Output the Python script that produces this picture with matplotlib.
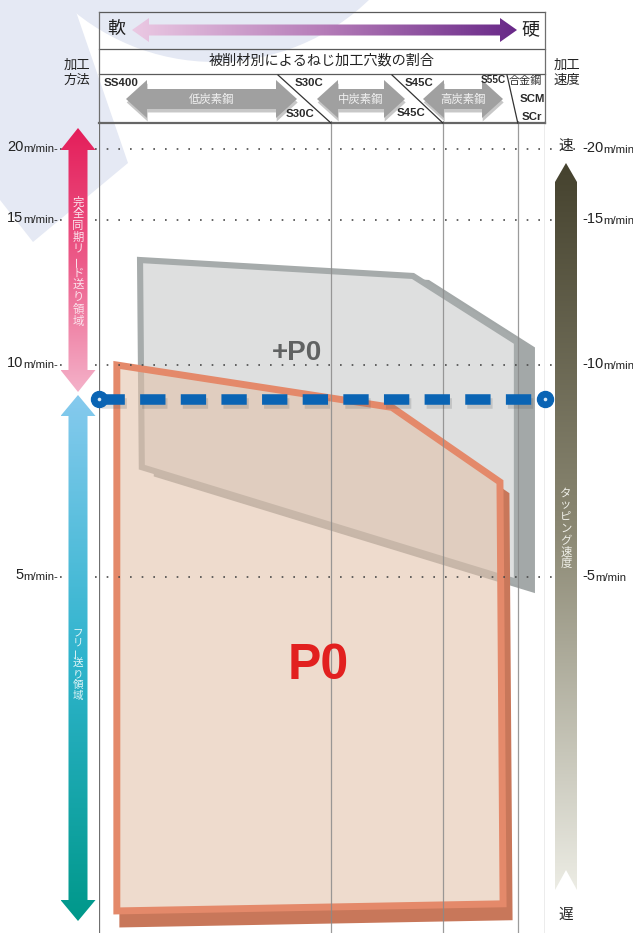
import numpy as np
import matplotlib
matplotlib.use("Agg")
import matplotlib.pyplot as plt
from matplotlib.patches import Polygon, Circle
from matplotlib.path import Path
from matplotlib.colors import LinearSegmentedColormap
import matplotlib.transforms as mtransforms
import matplotlib.patheffects as pe

# ---------------- data ----------------
SPEED_TICKS = [20, 15, 10, 5]                     # tapping speed (m/min)
SPEED_TICK_LABELS = ["20", "15", "10", "5"]
MATERIAL_BOUNDS = [0, 52.0, 77.1, 93.9, 100]      # share of threaded holes (%) per material group
P0_X = [4.0, 65.7, 89.9, 90.6, 4.0]               # P0 region, x in %
P0_Y = [10.0, 9.0, 7.24, 0.41, 0.31]              # P0 region, speed m/min
PLUS_P0_X = [9.2, 70.4, 93.7, 93.7, 9.6]          # +P0 region, x in %
PLUS_P0_Y = [13.62, 13.07, 10.79, 4.93, 7.59]     # +P0 region, speed m/min
SYNC_LIMIT_X = [0, 100]                           # boundary sync-lead / free feed
SYNC_LIMIT_Y = [9.2, 9.2]

# printed (non-linear) speed ruler: speed -> pixel row
RULER_SPEED = [0, 5, 10, 15, 20, 22]
RULER_ROW = [933, 577, 365, 220, 149, 121]

# ---------------- layout ----------------
W, H = 633, 933
CL, CR, CT = 99, 545, 121
JP = ["Noto Sans CJK JP", "DejaVu Sans"]
NARROW = ["Liberation Sans Narrow", "Liberation Sans", "DejaVu Sans"]

fig = plt.figure(figsize=(W / 100, H / 100), dpi=100)
fig.patch.set_facecolor("white")

bg = fig.add_axes([0, 0, 1, 1], zorder=0)
fg = fig.add_axes([0, 0, 1, 1], zorder=2)
for a in (bg, fg):
    a.set_xlim(0, W); a.set_ylim(H, 0); a.axis("off"); a.patch.set_visible(False)

ax = fig.add_axes([CL / W, 0, (CR - CL) / W, (H - CT) / H], zorder=1)
ax.patch.set_visible(False)
heights = H - np.array(RULER_ROW, dtype=float)
def fwd(v):
    return np.interp(v, RULER_SPEED, heights)
def inv(h):
    return np.interp(h, heights, RULER_SPEED)
ax.set_yscale("function", functions=(fwd, inv))
ax.set_xlim(0, 100); ax.set_ylim(0, 22)
ax.axis("off")

bx = mtransforms.blended_transform_factory(fg.transData, ax.transData)

# ---------------- background watermark ----------------
WM = "#E5E9F4"
bg.add_patch(Polygon([(0, 0), (72, 0), (128, 163), (33, 242), (0, 200)], closed=True,
                     facecolor=WM, edgecolor="none"))
bg.add_patch(Circle((215, -160), 222, facecolor=WM, edgecolor="none"))

# ---------------- helpers ----------------
def gradient_poly(axis, verts, colors, horizontal=False, z=3):
    poly = Polygon(verts, closed=True, facecolor="none", edgecolor="none")
    axis.add_patch(poly)
    xs = [v[0] for v in verts]; ys = [v[1] for v in verts]
    cmap = LinearSegmentedColormap.from_list("g", colors)
    arr = np.linspace(0, 1, 256)
    arr = arr.reshape(1, -1) if horizontal else arr.reshape(-1, 1)
    im = axis.imshow(arr, cmap=cmap, extent=(min(xs), max(xs), max(ys), min(ys)),
                     origin="upper", aspect="auto", zorder=z, interpolation="bilinear")
    im.set_clip_path(poly)

def vdouble(xc, yt, yb, hl, hh, sh):
    return [(xc, yt), (xc + hh, yt + hl), (xc + sh, yt + hl), (xc + sh, yb - hl),
            (xc + hh, yb - hl), (xc, yb), (xc - hh, yb - hl), (xc - sh, yb - hl),
            (xc - sh, yt + hl), (xc - hh, yt + hl)]

def hdouble(yc, xl, xr, hl, hh, sh):
    return [(xl, yc), (xl + hl, yc - hh), (xl + hl, yc - sh), (xr - hl, yc - sh),
            (xr - hl, yc - hh), (xr, yc), (xr - hl, yc + hh), (xr - hl, yc + sh),
            (xl + hl, yc + sh), (xl + hl, yc + hh)]

def vtext(axis, x, y0, step, s, **kw):
    for i, ch in enumerate(s):
        rot = 90 if ch == "ー" else 0
        axis.text(x, y0 + i * step, ch, ha="center", va="center", rotation=rot,
                  family=JP, **kw)

def pct2px(p):
    return CL + p * (CR - CL) / 100.0

# ---------------- chart content (data axes) ----------------
for b in MATERIAL_BOUNDS:
    edge = b in (MATERIAL_BOUNDS[0], MATERIAL_BOUNDS[-1])
    ax.axvline(b, color="#6f6f6f" if edge else "#8a8a8a", lw=0.9, zorder=6,
               alpha=1 if edge else 0.85)

def region(xs, ys, face, edge, shade, lw, off, alpha, z):
    verts = list(zip(xs, ys))
    shadow_tr = mtransforms.offset_copy(ax.transData, fig=fig, x=off[0], y=-off[1], units="dots")
    sh = Polygon(verts, closed=True, facecolor=shade, edgecolor=shade, lw=lw,
                 transform=shadow_tr, zorder=z, joinstyle="miter")
    ax.add_patch(sh)
    p = np.array(verts, float)
    area = 0.5 * np.sum(p[:, 0] * np.roll(p[:, 1], -1) - np.roll(p[:, 0], -1) * p[:, 1])
    rect = np.array([[-50, -5], [150, -5], [150, 40], [-50, 40]], float)
    rarea = 0.5 * np.sum(rect[:, 0] * np.roll(rect[:, 1], -1) - np.roll(rect[:, 0], -1) * rect[:, 1])
    if np.sign(area) == np.sign(rarea):
        p = p[::-1]
    comp = Path.make_compound_path(Path(np.vstack([rect, rect[:1]]), closed=True),
                                   Path(np.vstack([p, p[:1]]), closed=True))
    sh.set_clip_path(comp, ax.transData)
    ax.add_patch(Polygon(verts, closed=True, facecolor=face, edgecolor="none", alpha=alpha,
                         zorder=z + 0.1))
    ax.add_patch(Polygon(verts, closed=True, facecolor="none", edgecolor=edge, lw=lw,
                         zorder=z + 0.2, joinstyle="miter"))

region(PLUS_P0_X, PLUS_P0_Y, "#DEDFDF", "#A6ABAB", "#A3A8A8", 4.4, (15, 7), 1.0, 2)
region(P0_X, P0_Y, (226 / 255, 193 / 255, 169 / 255), "#E4896A", "#C8775A", 5.0, (6, 13), 0.58, 3)

# speed grid (dotted)
for v in SPEED_TICKS:
    ax.plot([60, 580], [v, v], transform=bx, ls=(0, (1, 6)), lw=1.2, color="#4a4a4a",
            clip_on=False, zorder=5)

# sync-lead limit (blue dashed)
ax.plot(SYNC_LIMIT_X, SYNC_LIMIT_Y, color="#0A64B4", lw=7.6, ls=(0, (2.4, 1.45)),
        solid_capstyle="butt", dash_capstyle="butt", zorder=8, clip_on=False,
        path_effects=[pe.SimpleLineShadow(offset=(1.5, -3), shadow_color="#555555", alpha=0.2),
                      pe.Normal()])
ax.plot(SYNC_LIMIT_X, SYNC_LIMIT_Y, ls="none", marker="o", ms=11.5, mfc="#0A64B4",
        mec="#0A64B4", zorder=9, clip_on=False)
ax.plot(SYNC_LIMIT_X, SYNC_LIMIT_Y, ls="none", marker="o", ms=2.6, mfc="#d8e8f6",
        mec="none", zorder=10, clip_on=False)

ax.text(44.4, 10.41, "+P0", ha="center", va="center", fontsize=20, fontweight="bold",
        color="#606262", family=NARROW, zorder=7)
ax.text(49.1, 3.75, "P0", ha="center", va="center", fontsize=36, fontweight="bold",
        color="#E2201F", family=NARROW, zorder=7)

# tick labels
base_off = mtransforms.ScaledTranslation(0, -3 / 100, fig.dpi_scale_trans)
for v, lab in zip(SPEED_TICKS, SPEED_TICK_LABELS):
    u = fg.text(58, v, "m/min-", transform=bx + base_off, ha="right", va="baseline",
                fontsize=8.2, family=NARROW, color="#222222")
    fg.annotate(lab, xy=(0, 0), xycoords=u, ha="right", va="bottom",
                fontsize=10.5, family=NARROW, color="#222222", annotation_clip=False)
    n = fg.text(582, v, "-" + lab, transform=bx + base_off, ha="left", va="baseline",
                fontsize=10.5, family=NARROW, color="#222222")
    fg.annotate("m/min", xy=(1, 0), xycoords=n, ha="left", va="bottom",
                fontsize=8.2, family=NARROW, color="#222222", annotation_clip=False)

# ---------------- header (pixel space) ----------------
LC = "#5a5a5a"
for y in (12, 49, 74):
    fg.plot([CL, CR], [y, y], color=LC, lw=0.9, zorder=4)
fg.plot([CL, CR], [123, 123], color="#666666", lw=1.6, zorder=4)
fg.plot([CL, CL], [12, 123], color="#6f6f6f", lw=0.9, zorder=4)
fg.plot([CR, CR], [12, 123], color="#6f6f6f", lw=0.9, zorder=4)

for top_x, b in ((278, MATERIAL_BOUNDS[1]), (392, MATERIAL_BOUNDS[2]), (507, MATERIAL_BOUNDS[3])):
    fg.plot([top_x, pct2px(b)], [75, 123], color="#333333", lw=0.9, zorder=4)

fg.text(116, 29, "軟", ha="center", va="center", fontsize=13, family=JP, color="#222222")
fg.text(530, 29, "硬", ha="center", va="center", fontsize=13, family=JP, color="#222222")
gradient_poly(fg, hdouble(30, 132, 517, 17, 12, 5.5), ["#EBC9E3", "#B57CB8", "#682888"],
              horizontal=True)

fg.text(322, 61, "被削材別によるねじ加工穴数の割合", ha="center", va="center", fontsize=10.2,
        family=JP, color="#222222")
fg.text(77, 72, "加工\n方法", ha="center", va="center", fontsize=9.6, family=JP,
        color="#222222", linespacing=1.1)
fg.text(567, 72, "加工\n速度", ha="center", va="center", fontsize=9.6, family=JP,
        color="#222222", linespacing=1.1)

gshadow = [pe.SimplePatchShadow(offset=(0.5, -2.5), shadow_rgbFace="#000000", alpha=0.22), pe.Normal()]
for (xl, xr), lab in (((126, 297), "低炭素鋼"), ((317, 405), "中炭素鋼"), ((423, 503), "高炭素鋼")):
    fg.add_patch(Polygon(hdouble(99, xl, xr, 21, 19, 10), closed=True, facecolor="#A0A0A0",
                         edgecolor="none", path_effects=gshadow, zorder=3))
    fg.text((xl + xr) / 2, 99, lab, ha="center", va="center", fontsize=8.2, family=JP,
            color="#F2F2F2", zorder=4)

mat_kw = dict(ha="center", va="center", fontsize=8.2, fontweight="bold", family=NARROW,
              color="#2a2a2a", zorder=5)
fg.text(121, 83, "SS400", **mat_kw)
fg.text(309, 83, "S30C", **mat_kw)
fg.text(300, 114, "S30C", **mat_kw)
fg.text(419, 83, "S45C", **mat_kw)
fg.text(411, 113, "S45C", **mat_kw)
fg.text(532, 99, "SCM", **mat_kw)
fg.text(532, 117, "SCr", **mat_kw)
fg.text(506, 80, "S55C", ha="right", va="center", fontsize=7.2, fontweight="bold",
        family=NARROW, color="#2a2a2a", zorder=5)
fg.text(525.5, 81, "合金鋼", ha="center", va="center", fontsize=8.0, family=JP,
        color="#2a2a2a", zorder=5)

# ---------------- side arrows ----------------
gradient_poly(fg, vdouble(78, 128, 392, 22, 17.5, 9.5), ["#E41E5A", "#EC5A88", "#F4B2C9"])
vtext(fg, 78, 202, 11.9, "完全同期リード送り領域", fontsize=8.2, color="#FBE3EC", zorder=5)
gradient_poly(fg, vdouble(78, 395, 921, 21, 17.5, 9.5), ["#86CAEE", "#2FB4CD", "#00988A"])
vtext(fg, 78, 632, 10.6, "フリー送り領域", fontsize=7.6, color="#E4F6F8", zorder=5)

gradient_poly(fg, [(555, 182), (566, 163), (577, 182), (577, 890), (566, 870), (555, 890)],
              ["#45422E", "#8A8772", "#ECECE4"])
vtext(fg, 566, 494, 11.6, "タッピング速度", fontsize=8.2, color="#EFEFE8", zorder=5)
fg.text(566, 146, "速", ha="center", va="center", fontsize=10.5, family=JP, color="#222222")
fg.text(566, 915, "遅", ha="center", va="center", fontsize=10.5, family=JP, color="#222222")

for a in (bg, fg):
    a.set_xlim(0, W); a.set_ylim(H, 0)

fig.savefig("out.png", dpi=100)
